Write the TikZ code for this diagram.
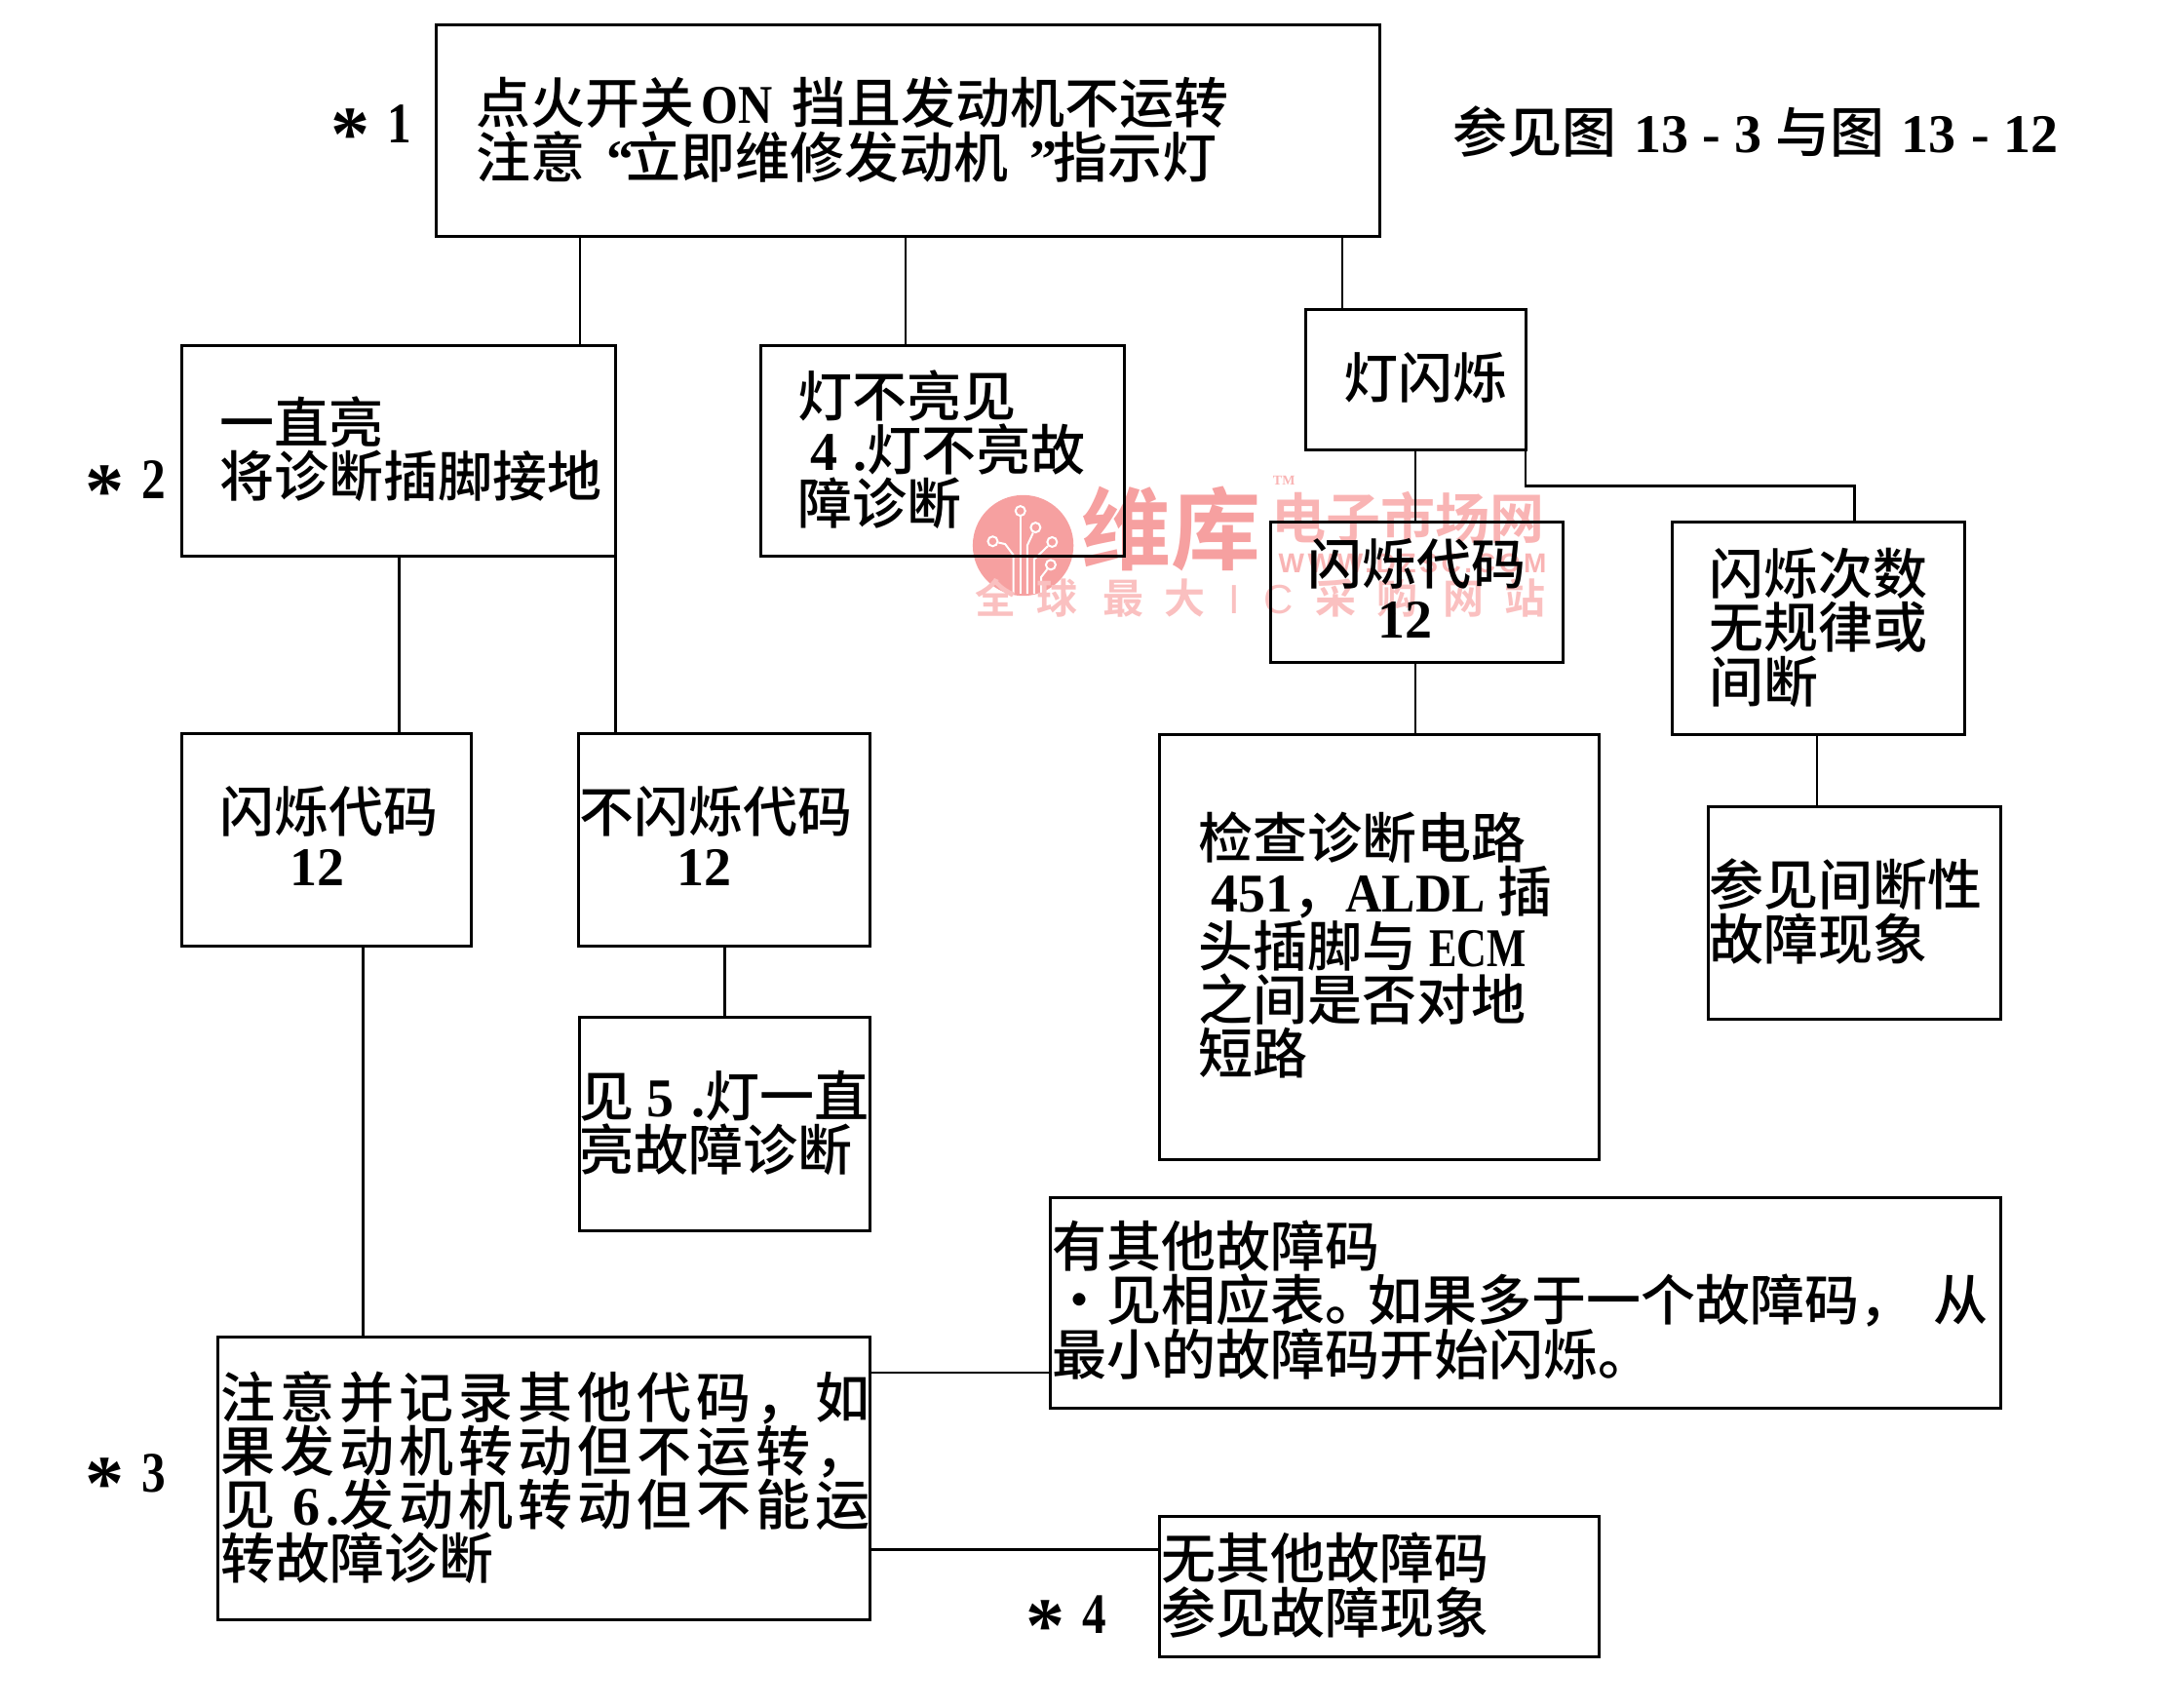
\documentclass[tikz,border=0pt]{standalone}
\usepackage{fontspec}
\setmainfont{Liberation Serif}
\newfontfamily\cjk[BoldFont={Noto Sans CJK SC Medium}]{Noto Sans CJK SC}
\newfontfamily\cjkw[LetterSpace=9,BoldFont={Noto Sans CJK SC Medium}]{Noto Sans CJK SC}
\newfontfamily\cjkb{Noto Sans CJK SC Bold}
\newfontfamily\latf{Liberation Serif}
\newfontfamily\wmlat{Liberation Sans}
\newfontfamily\wwwf[LetterSpace=13]{Liberation Sans}
\newcommand\ls[1]{{\latf\bfseries #1}}
\definecolor{wmA}{HTML}{F6A0A0}
\definecolor{wmB}{HTML}{F9B4B4}
\definecolor{wmC}{HTML}{FAC0C0}
\tikzset{
  boxst/.style={draw=black,line width=1.5pt,rectangle,inner sep=0pt,outer sep=0pt,fill=none},
  conn/.style={draw=black,line width=1.25pt},
  txt/.style={inner sep=0pt,outer sep=0pt,align=left,anchor=north west,text=black,
    font={\cjk\bfseries\fontsize{28}{27.6}\selectfont\lineskiplimit=-20pt}},
  txtw/.style={txt,font={\cjkw\bfseries\fontsize{28}{27.6}\selectfont\lineskiplimit=-20pt}},
  lat/.style={inner sep=0pt,outer sep=0pt,anchor=west,text=black,font={\latf\bfseries\fontsize{28}{28}\selectfont}},
  wm/.style={inner sep=0pt,outer sep=0pt,anchor=west,text=wmB},
  trace/.style={draw=white,line width=1pt,line join=round},
  pad/.style={draw=white,line width=1pt,fill=wmA,circle,inner sep=0pt,minimum size=5pt},
}
\newcommand\bx[5]{\node[boxst,minimum width={(#4-#2)*0.70825pt},minimum height={(#5-#3)*0.70825pt}] (#1) at ({(#2+#4)/2},{(#3+#5)/2}) {};}
\newcommand\tx[4]{\node[txt] (#1) at (#2,{#3-20}) {#4};}
\newcommand\wmc[2]{\makebox[0pt][c]{#1}\hspace{#2pt}}
\newcommand\starmark[2]{\raisebox{-0.33em}{\fontsize{40}{40}\selectfont *}\hspace{#1pt}\scalebox{0.88}[1.05]{#2}}
\begin{document}
\begin{tikzpicture}[x=0.70825pt,y=-0.70825pt]
\useasboundingbox (0,0) rectangle (1568,1236.2);
% watermark
\node[circle,fill=wmA,minimum size={73*0.70825pt},inner sep=0pt] (logo) at (741,395) {};
\foreach \n/\x/\y in {pa/739/370,pb/750/382,pc/762/392.5,pd/761/409,pe/719/392}
  \node[pad] (\n) at (\x,\y) {};
\draw[trace] (pa) -- (739,430);
\draw[trace] (pb) -- (744,395) -- (744,430);
\draw[trace] (pc) -- (749,405) -- (749,430);
\draw[trace] (pd) -- (754,418) -- (754,430);
\draw[trace] (pe) -- (728,394) -- (734,402) -- (734,430);
\node[wm,text=wmA,font={\cjkb\fontsize{46}{46}\selectfont}] (wma) at (783,383) {维库};
\node[wm,font={\cjkb\fontsize{28}{28}\selectfont}] (wmb) at (921,375) {电子市场网};
\node[wm,font={\latf\bfseries\fontsize{7}{7}\selectfont}] (wmt) at (922,348) {TM};
\node[wm,font={\wwwf\bfseries\fontsize{14}{14}\selectfont}] (wmw) at (926,408) {WWW.DZSC.COM};
\node[wm,text=wmC,font={\cjkb\fontsize{21}{21}\selectfont}] (wmg) at (721.5,433) {\wmc{全}{31.5}\wmc{球}{34}\wmc{最}{31.5}\wmc{大}{25}\wmc{\wmlat I}{22.7}\wmc{\wmlat C}{29.7}\wmc{采}{31.2}\wmc{购}{34}\wmc{网}{31.9}\wmc{站}{0}};
% boxes
\bx{top}{316}{18}{999}{171}
\bx{on}{132}{250}{446}{403}
\bx{off}{551}{250}{814}{403}
\bx{flash}{946}{224}{1105}{326}
\bx{codeR}{920}{378}{1132}{480}
\bx{count}{1211}{378}{1423}{532}
\bx{codeL}{132}{531}{341}{685}
\bx{nocode}{419}{531}{630}{685}
\bx{see}{420}{737}{630}{891}
\bx{check}{840}{532}{1158}{840}
\bx{inter}{1237}{584}{1449}{738}
\bx{other}{761}{867}{1449}{1020}
\bx{note}{158}{968}{630}{1173}
\bx{none}{840}{1098}{1158}{1200}
% connectors
\draw[conn] (top.south -| 420,0) -- (on.north -| 420,0);
\draw[conn] (top.south -| 656,0) -- (off.north -| 656,0);
\draw[conn] (top.south -| 972,0) -- (flash.north -| 972,0);
\draw[conn] (flash.south -| 1025,0) -- (codeR.north -| 1025,0);
\draw[conn] (flash.south east) |- (1343,352) -- (count.north -| 1343,0);
\draw[conn] (codeR.south -| 1025,0) -- (check.north -| 1025,0);
\draw[conn] (count.south -| 1316,0) -- (inter.north -| 1316,0);
\draw[conn] (on.south -| 289,0) -- (codeL.north -| 289,0);
\draw[conn] (on.south east) -- (nocode.north -| on.south east);
\draw[conn] (nocode.south -| 525,0) -- (see.north -| 525,0);
\draw[conn] (codeL.south -| 263,0) -- (note.north -| 263,0);
\draw[conn] (note.east |- 0,994) -- (other.west |- 0,994);
\draw[conn] (note.east |- 0,1122) -- (none.west |- 0,1122);
% labels
\tx{tTop}{345}{76}{点火开关\hspace{3.5pt}\ls{\scalebox{0.87}[1]{ON}}\hspace{10pt}挡且发动机不运转\\注意\hspace{11pt}\ls{“}\hspace{-4pt}立即维修发动机\hspace{11pt}\ls{”}\hspace{-2pt}指示灯}
\tx{tRef}{1052}{97}{参见图\hspace{3pt} \ls{13 - 3}\hspace{1pt} 与图\hspace{2pt} \ls{13\hspace{1pt} - 12}}
\tx{tOn}{159}{307}{一直亮\\将诊断插脚接地}
\tx{tOff}{578}{288}{灯不亮见\\\hspace*{6.5pt}\ls{4\hspace{8pt}.}灯不亮故\\障诊断}
\tx{tFlash}{973}{275}{灯闪烁}
\tx{tCodeR}{947}{410}{闪烁代码\\\hspace*{36pt}\ls{12}}
\tx{tCount}{1238}{417}{闪烁次数\\无规律或\\间断}
\tx{tCodeL}{159}{589}{闪烁代码\\\hspace*{36pt}\ls{12}}
\tx{tNocode}{420}{589}{不闪烁代码\\\hspace*{50pt}\ls{12}}
\tx{tSee}{420}{795}{见 \ls{5\hspace{9pt}.}灯一直\\亮故障诊断}
\tx{tCheck}{868}{608}{检查诊断电路\\\hspace*{6.5pt}\ls{451}，\hspace{-1pt}\ls{\scalebox{0.92}[1]{ALDL}} 插\\头插脚与 \ls{\scalebox{0.76}[1]{ECM}}\\之间是否对地\\短路}
\tx{tInter}{1238}{642}{参见间断性\\故障现象}
\tx{tOther}{762}{904}{有其他故障码\\·见相应表。\hspace{-6pt}如果多于一个故障码，\hspace{10pt}从\\最小的故障码开始闪烁。}
\node[txtw] (tNote) at (160,{1013-20}) {注意并记录其他代码，如\\果发动机转动但不运转，\\见 \ls{6\hspace{3pt}.}发动机转动但不能运\\{\cjk\bfseries 转故障诊断}};
\tx{tNone}{841}{1130}{无其他故障码\\参见故障现象}
\node[lat] (s1) at (240,96) {\starmark{9}{1}};
\node[lat] (s2) at (62,354) {\starmark{9}{2}};
\node[lat] (s3) at (62,1073) {\starmark{9}{3}};
\node[lat] (s4) at (743,1176) {\starmark{9}{4}};
\end{tikzpicture}
\end{document}
